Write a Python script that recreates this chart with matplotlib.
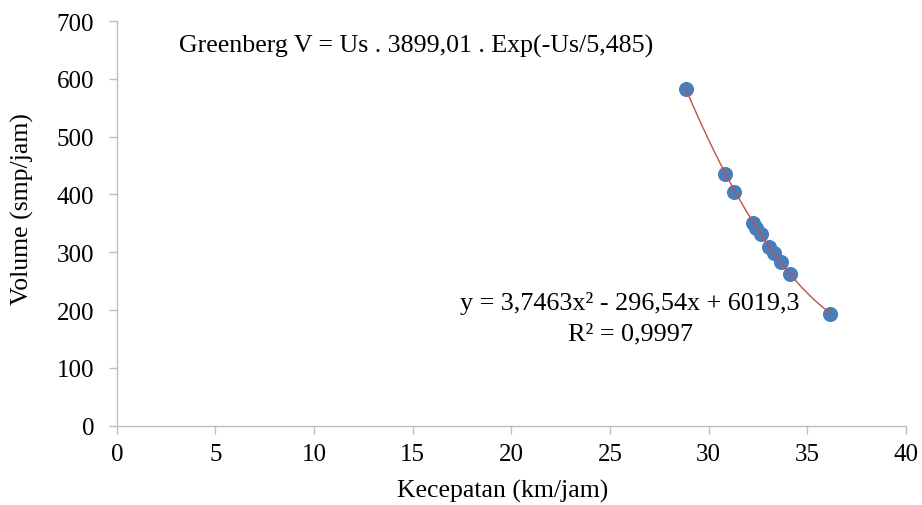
import matplotlib
matplotlib.use("Agg")
import matplotlib.pyplot as plt
import numpy as np

plt.rcParams['font.family'] = ['Liberation Serif', 'DejaVu Serif']

speed = [28.86, 30.81, 31.31, 32.25, 32.42, 32.65, 33.05, 33.30, 33.68, 34.14, 36.18]
volume = [582, 435, 404, 350, 342, 331, 309, 298, 283, 262, 193]
coef = [3.7463, -296.54, 6019.3]

title_text = "Greenberg V = Us . 3899,01 . Exp(-Us/5,485)"
eq_line1 = "y = 3,7463x² - 296,54x + 6019,3"
eq_line2 = "R² = 0,9997"
xlabel = "Kecepatan (km/jam)"
ylabel = "Volume (smp/jam)"

W, H = 922, 506
fig = plt.figure(figsize=(W / 100, H / 100), dpi=100)
ax = fig.add_axes([116.8 / W, 1 - 426.7 / H, 789 / W, 404.7 / H])

ax.scatter(speed, volume, s=118, color='#4a7ebb', zorder=3, linewidths=0)
xs = np.linspace(min(speed), max(speed), 200)
ax.plot(xs, np.polyval(coef, xs), color='#c0504d', lw=1.0, zorder=4)

ax.set_xlim(0, 40)
ax.set_ylim(0, 700)
ax.set_xticks(range(0, 41, 5))
ax.set_yticks(range(0, 701, 100))
for s in ['top', 'right']:
    ax.spines[s].set_visible(False)
for s in ['left', 'bottom']:
    ax.spines[s].set_color('#bfbfbf')
    ax.spines[s].set_linewidth(1.0)
ax.tick_params(axis='both', colors='#bfbfbf', labelcolor='black', labelsize=18,
               length=5.8, width=1, direction='out')
ax.tick_params(axis='x', pad=7)
ax.tick_params(axis='y', pad=10.5)

fig.text(502.5 / W, 1 - 498 / H, xlabel, fontsize=18.5, ha='center', va='baseline')
fig.text(22 / W, 1 - 209 / H, ylabel, fontsize=18.5, ha='center', va='center', rotation=90)

fig.text(179 / W, 1 - 53 / H, title_text, fontsize=18.65, ha='left', va='baseline')
fig.text(630 / W, 1 - 310 / H, eq_line1, fontsize=18.8, ha='center', va='baseline')
fig.text(630 / W, 1 - 340 / H, eq_line2, fontsize=18.8, ha='center', va='baseline')

fig.savefig("out.png", dpi=100)
